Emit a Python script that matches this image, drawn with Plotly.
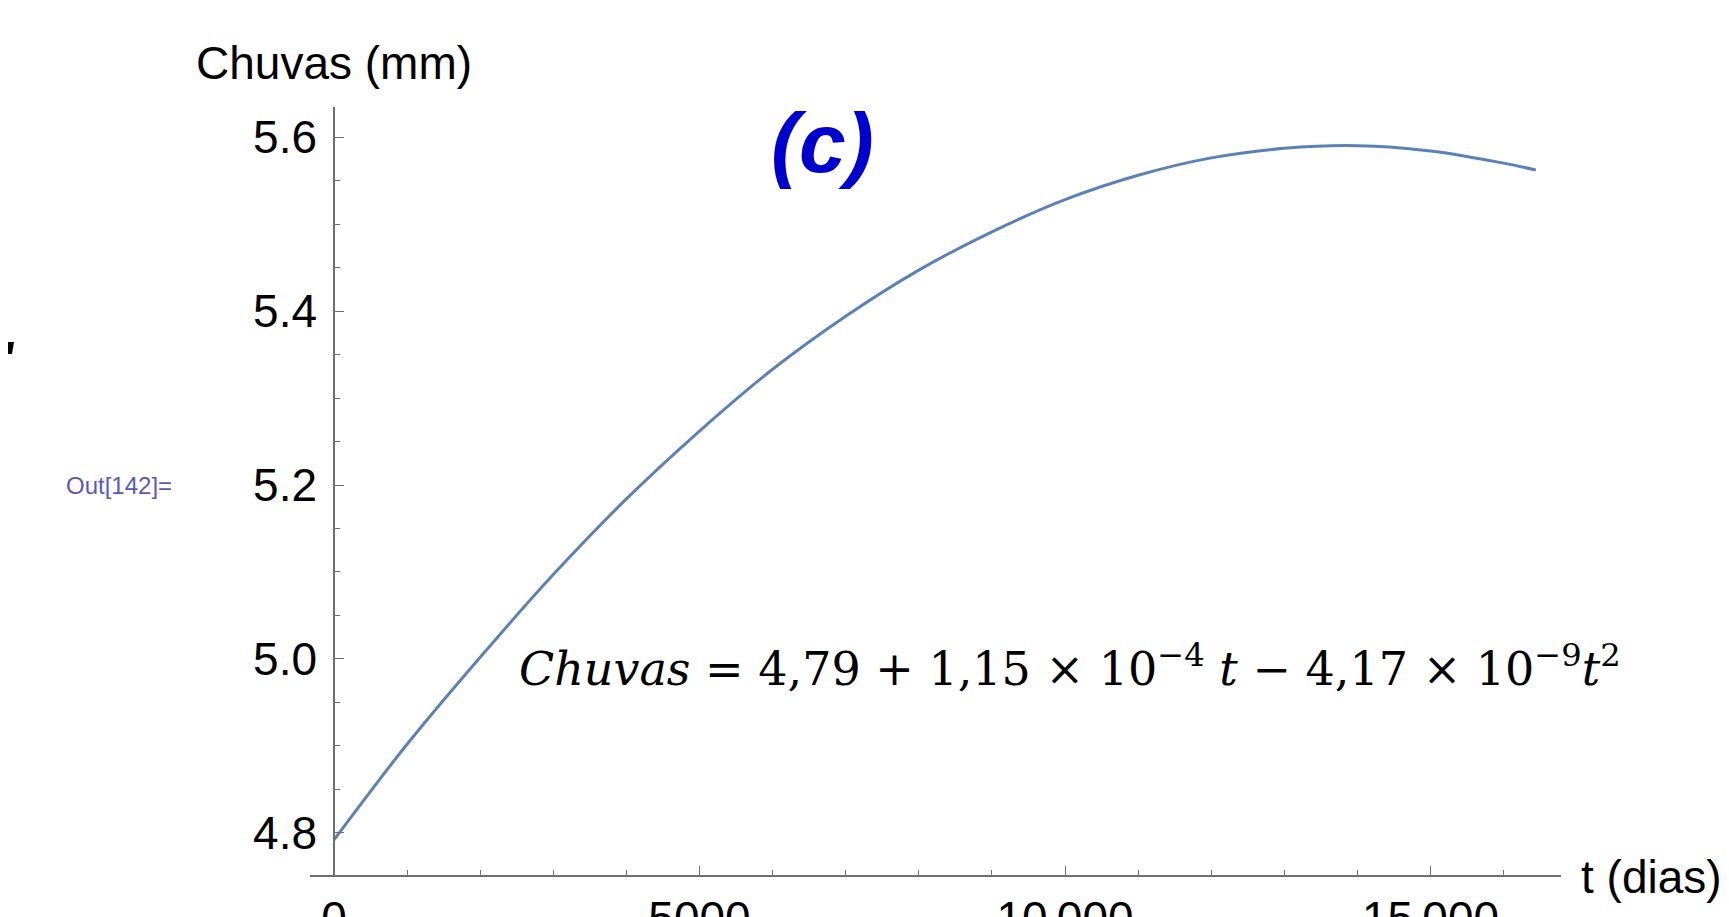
"""
Chuvas (mm) ao longo do tempo (t em dias) - ajuste quadratico, painel (c).
"""

import plotly.graph_objects as go

# Valores
t_dias = [0, 1000, 2000, 3000, 4000, 5000, 6000, 7000, 8000,
          9000, 10000, 11000, 12000, 13000, 14000, 15000, 16000, 16440]
chuvas_mm = [4.792, 4.902, 5.002, 5.097, 5.184, 5.262, 5.333, 5.394, 5.447,
             5.491, 5.528, 5.556, 5.576, 5.587, 5.590, 5.584, 5.570, 5.562]

# Ticks
x_tick_vals = [0, 5000, 10000, 15000]
x_tick_text = ["0", "5000", "10\u2009000", "15\u2009000"]
y_tick_vals = [4.8, 5.0, 5.2, 5.4, 5.6]
y_tick_text = ["4.8", "5.0", "5.2", "5.4", "5.6"]

W, H = 1729, 917
OFF = 8  # page body margin added by the browser
# plot area in page pixels
PL, PT, PW, PH = 310, 107, 1251, 768
y_axis_pos = 24 / PW  # the y axis sits at t = 0, not at the plot edge


def px_x(x):
    return (x - PL) / PW


def px_y(y):
    return (PT + PH - y) / PH


AXIS_COLOR = "#6e6e6e"
TICK_FONT = dict(family="Liberation Sans, Arial, sans-serif", size=46, color="black")

fig = go.Figure()

fig.add_trace(go.Scatter(
    x=t_dias, y=chuvas_mm,
    mode="lines",
    line=dict(color="#5E81B5", width=3, shape="spline"),
    showlegend=False,
    hoverinfo="x+y",
))

fig.update_layout(
    width=W, height=H,
    margin=dict(l=PL - OFF, r=W - PL - PW + OFF, t=PT - OFF, b=H - PT - PH + OFF, pad=0),
    paper_bgcolor="white",
    plot_bgcolor="white",
    xaxis=dict(
        range=[-328, 16785],
        automargin=False,
        showgrid=False, zeroline=False,
        showline=True, linecolor=AXIS_COLOR, linewidth=1.5,
        ticks="inside", ticklen=9, tickwidth=1.3, tickcolor=AXIS_COLOR,
        tickvals=x_tick_vals, ticktext=x_tick_text,
        tickfont=TICK_FONT, ticklabelstandoff=2,
        minor=dict(ticks="inside", ticklen=5, tickwidth=1, tickcolor=AXIS_COLOR,
                   tick0=0, dtick=1000),
    ),
    yaxis=dict(
        range=[4.7517, 5.6345],
        automargin=False,
        anchor="free", position=y_axis_pos,
        showgrid=False, zeroline=False,
        showline=True, linecolor=AXIS_COLOR, linewidth=1.5,
        ticks="inside", ticklen=9, tickwidth=1.3, tickcolor=AXIS_COLOR,
        tickvals=y_tick_vals, ticktext=y_tick_text,
        tickfont=TICK_FONT, ticklabelstandoff=7,
        minor=dict(ticks="inside", ticklen=5, tickwidth=1, tickcolor=AXIS_COLOR,
                   tick0=4.8, dtick=0.05),
    ),
)

# Axis titles (Mathematica style: at the axis ends)
fig.add_annotation(
    text="Chuvas (mm)", xref="paper", yref="paper",
    x=y_axis_pos, y=px_y(63), xanchor="center", yanchor="middle",
    showarrow=False, font=TICK_FONT,
)
fig.add_annotation(
    text="t (dias)", xref="paper", yref="paper",
    x=px_x(1579), y=px_y(877), xanchor="left", yanchor="middle",
    showarrow=False, font=TICK_FONT,
)

# Panel label
fig.add_annotation(
    text="<b><i>(c)</i></b>", xref="paper", yref="paper",
    x=px_x(822), y=px_y(143), xanchor="center", yanchor="middle",
    showarrow=False,
    font=dict(family="Liberation Sans, Arial, sans-serif", size=84, color="#0000CC"),
)

# Fitted equation
fig.add_annotation(
    text=("<i>Chuvas</i> = 4,79 + 1,15 × 10<sup>−4</sup> <i>t</i> − "
          "4,17 × 10<sup>−9</sup><i>t</i><sup>2</sup>"),
    xref="paper", yref="paper",
    x=px_x(1070), y=px_y(666), xanchor="center", yanchor="middle",
    showarrow=False,
    font=dict(family="DejaVu Serif, Liberation Serif, serif", size=46, color="black"),
)

# Notebook output label
fig.add_annotation(
    text="Out[142]=", xref="paper", yref="paper",
    x=px_x(64), y=px_y(485), xanchor="left", yanchor="middle",
    showarrow=False,
    font=dict(family="Liberation Sans, Arial, sans-serif", size=24, color="#5a5ab4"),
)

# Cut-off glyph fragment at the left edge of the screenshot
fig.add_shape(
    type="path", xref="paper", yref="paper",
    path=(f"M {px_x(OFF)} {px_y(342)} L {px_x(OFF + 6)} {px_y(342)} "
          f"L {px_x(OFF + 4)} {px_y(354)} L {px_x(OFF)} {px_y(354)} Z"),
    fillcolor="black", line=dict(width=0),
)

fig.write_html("out.html")
